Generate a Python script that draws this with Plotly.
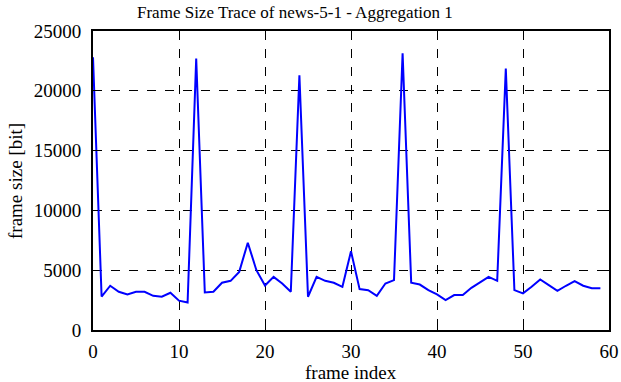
import plotly.graph_objects as go

frame_index = list(range(60))
frame_size = [22800, 2800, 3700, 3200, 2970, 3200, 3200, 2860, 2780, 3110,
              2450, 2300, 22700, 3140, 3200, 3950, 4110, 4860, 7300, 5000,
              3720, 4440, 3890, 3200, 21300, 2780, 4440, 4110, 3950, 3610,
              6580, 3420, 3330, 2860, 3890, 4170, 23140, 3950, 3800, 3330,
              2970, 2500, 2920, 2920, 3530, 3950, 4440, 4110, 21860, 3330,
              3060, 3610, 4220, 3750, 3280, 3700, 4080, 3700, 3500, 3500]
x_ticks = [0, 10, 20, 30, 40, 50, 60]
y_ticks = [0, 5000, 10000, 15000, 20000, 25000]
y_ticktext = ["0", "5000", "10000", "15000", "20000", "25000"]

font = "Liberation Serif, Times New Roman, serif"

W, H = 621, 382
ML, MR, MT, MB = 93, 12, 31, 52

fig = go.Figure(go.Scatter(x=frame_index, y=frame_size, mode="lines",
                           line=dict(color="#0000ff", width=2)))

axis_common = dict(showline=True, linecolor="black", linewidth=2, mirror="ticks",
                   ticks="inside", ticklen=5, tickwidth=1, tickcolor="black",
                   showgrid=True, gridcolor="black", griddash="dash", gridwidth=1,
                   zeroline=False, automargin=False,
                   tickfont=dict(family=font, size=19, color="black"))

fig.update_layout(
    width=W, height=H,
    margin=dict(l=ML, r=MR, t=MT, b=MB, autoexpand=False),
    plot_bgcolor="white", paper_bgcolor="white",
    showlegend=False,
    xaxis=dict(range=[0, 60], tickvals=x_ticks, ticklabelstandoff=3, **axis_common),
    yaxis=dict(range=[0, 25000], tickvals=y_ticks, ticktext=y_ticktext,
               ticklabelstandoff=6, **axis_common),
)

pw, ph = W - ML - MR, H - MT - MB
def px(xp): return (xp - ML) / pw
def py(yp): return (H - MB - yp) / ph

fig.add_annotation(text="Frame Size Trace of news-5-1 - Aggregation 1", x=px(295), y=py(12),
                   xref="paper", yref="paper", showarrow=False, xanchor="center", yanchor="middle",
                   font=dict(family=font, size=17, color="black"))
fig.add_annotation(text="frame index", x=px(351), y=py(373),
                   xref="paper", yref="paper", showarrow=False, xanchor="center", yanchor="middle",
                   font=dict(family=font, size=19, color="black"))
fig.add_annotation(text="frame size [bit]", x=px(15), y=py(181), textangle=-90,
                   xref="paper", yref="paper", showarrow=False, xanchor="center", yanchor="middle",
                   font=dict(family=font, size=19, color="black"))

fig.write_html("out.html", config={"displayModeBar": False},
               post_script="document.body.style.margin='0';document.body.style.overflow='hidden';")
